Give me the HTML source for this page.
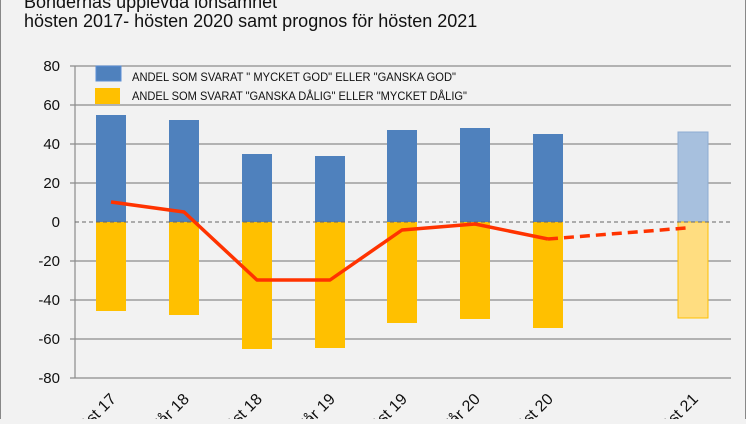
<!DOCTYPE html>
<html><head><meta charset="utf-8"><style>
body{margin:0;width:746px;height:419px;overflow:hidden;background:#f2f2f2;font-family:"Liberation Sans",sans-serif}
</style></head><body>
<svg width="746" height="419" viewBox="0 0 746 419" xmlns="http://www.w3.org/2000/svg">
<rect x="0.5" y="-2" width="745" height="425" fill="#f2f2f2" stroke="#888" stroke-width="1"/>
<text x="24" y="8" font-family="Liberation Sans, sans-serif" font-size="18" fill="#111">Böndernas upplevda lönsamhet</text>
<text x="24" y="27" font-family="Liberation Sans, sans-serif" font-size="18" fill="#111">hösten 2017- hösten 2020 samt prognos för hösten 2021</text>
<g stroke="#8c8c8c" stroke-width="1.2">
<line x1="70" y1="66" x2="731" y2="66"/><line x1="70" y1="105" x2="731" y2="105"/>
<line x1="70" y1="144" x2="731" y2="144"/><line x1="70" y1="183" x2="731" y2="183"/>
<line x1="70" y1="261" x2="731" y2="261"/><line x1="70" y1="300" x2="731" y2="300"/>
<line x1="70" y1="339" x2="731" y2="339"/><line x1="70" y1="378" x2="731" y2="378"/>
<line x1="75" y1="66" x2="75" y2="378"/>
</g>
<g font-family="Liberation Sans, sans-serif" font-size="15" fill="#111" text-anchor="end">
<text x="60" y="71">80</text><text x="60" y="110">60</text><text x="60" y="149">40</text><text x="60" y="188">20</text><text x="60" y="227">0</text><text x="60" y="266">-20</text><text x="60" y="305">-40</text><text x="60" y="344">-60</text><text x="60" y="383">-80</text>
</g>
<g fill="#4f81bd">
<rect x="96" y="115" width="30" height="107"/><rect x="169" y="120" width="30" height="102"/>
<rect x="242" y="154" width="30" height="68"/><rect x="315" y="156" width="30" height="66"/>
<rect x="387" y="130" width="30" height="92"/><rect x="460" y="128" width="30" height="94"/>
<rect x="533" y="134" width="30" height="88"/>
</g>
<rect x="678" y="132" width="30" height="90" fill="#a7c0de" stroke="#8eacd3"/>
<g fill="#ffc000">
<rect x="96" y="222" width="30" height="89"/><rect x="169" y="222" width="30" height="93"/>
<rect x="242" y="222" width="30" height="127"/><rect x="315" y="222" width="30" height="126"/>
<rect x="387" y="222" width="30" height="101"/><rect x="460" y="222" width="30" height="97"/>
<rect x="533" y="222" width="30" height="106"/>
</g>
<rect x="678" y="222" width="30" height="96" fill="#ffdd80" stroke="#ffc000"/>
<line x1="75" y1="222" x2="731" y2="222" stroke="#666" stroke-width="1" stroke-dasharray="4,3"/>
<polyline points="111,202 184,212 257,280 330,280 402,230 475,224 548,239" fill="none" stroke="#ff3300" stroke-width="3.5" stroke-linejoin="round"/>
<polyline points="548,239 686,228" fill="none" stroke="#ff3300" stroke-width="3.5" stroke-dasharray="10,6"/>
<rect x="96" y="66" width="25" height="15" fill="#4f81bd" stroke="#5b8fd6"/>
<rect x="95" y="88" width="25" height="16" fill="#ffc000"/>
<text x="132" y="81" font-size="12" fill="#111" textLength="324" lengthAdjust="spacingAndGlyphs">ANDEL SOM SVARAT " MYCKET GOD" ELLER "GANSKA GOD"</text>
<text x="132" y="100" font-size="12" fill="#111" textLength="335" lengthAdjust="spacingAndGlyphs">ANDEL SOM SVARAT "GANSKA DÅLIG" ELLER "MYCKET DÅLIG"</text>
<g font-family="Liberation Sans, sans-serif" font-size="16" fill="#111" text-anchor="end">
<text transform="translate(117,400) rotate(-45)">Höst 17</text>
<text transform="translate(190,400) rotate(-45)">Vår 18</text>
<text transform="translate(263,400) rotate(-45)">Höst 18</text>
<text transform="translate(336,400) rotate(-45)">Vår 19</text>
<text transform="translate(408,400) rotate(-45)">Höst 19</text>
<text transform="translate(481,400) rotate(-45)">Vår 20</text>
<text transform="translate(554,400) rotate(-45)">Höst 20</text>
<text transform="translate(699,400) rotate(-45)">Höst 21</text>
</g>
</svg>
</body></html>
